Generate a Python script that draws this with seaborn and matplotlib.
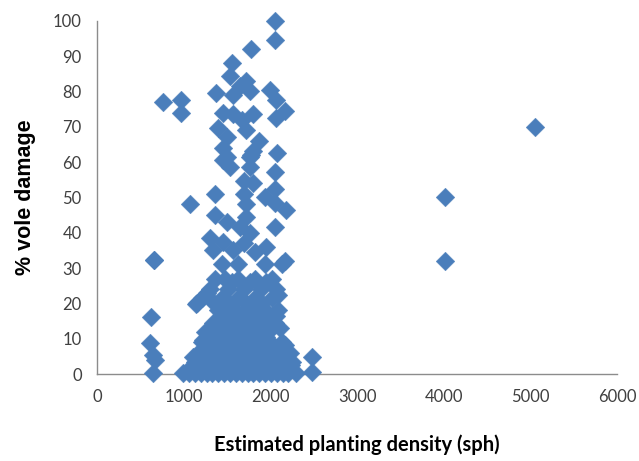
import matplotlib
matplotlib.use("Agg")
import matplotlib.pyplot as plt
import seaborn as sns
import pandas as pd

# density (sph) and vole damage (%)
density = [
    760, 970, 970, 1370, 1530, 1560, 1780, 2050, 2050, 1720,
    1650, 1570, 1760, 1990, 2060, 2170, 2060, 1450, 1570, 1800,
    1670, 1720, 1400, 1500, 1870, 1450, 1800, 2080, 1500, 1760,
    1450, 1530, 1780, 1760, 2050, 1690, 1800, 1360, 2050, 1690,
    1940, 2180, 2050, 1720, 1360, 1720, 2050, 1500, 1650, 1760,
    1300, 1450, 1690, 1950, 1570, 1820, 2170, 1340, 1070, 660,
    1440, 1630, 1940, 2130,
    1360, 1476, 1630, 1820, 2020, 1560, 1760, 1950,
    1303, 1510, 1700, 1890, 2060, 1265,
    1207, 1150, 1440, 1630, 1820, 2020, 2091,
    1350, 1520, 1720, 1900,
    1400, 1590, 1790, 1940, 2090,
    1460, 1660, 1870, 2060,
    1340, 1475, 1670, 1860, 2050, 1550, 1750, 1980, 2110,
    1400, 1600, 1800, 1990,
    1245, 1440, 1630, 1790, 1970, 1500, 1700, 1880,
    1290, 1560, 1760, 1950,
    1210, 1360, 1555, 1740, 1940, 2130, 1223, 2168,
    1290, 1470, 1650, 1850, 2040,
    1165, 1325, 1510, 1700, 1900, 2090, 2225, 1260, 1420, 1620, 1800, 2000, 2160,
    1210, 1380, 1560, 1760, 1960, 2150,
    1130, 1280, 1476, 1670, 1860, 2050, 2250, 1107,
    1150, 1310, 1520, 1710, 1900, 2100, 2240,
    1060, 1200, 1340, 1460, 1600, 1740, 1870, 2010, 2140,
    990, 1130, 1270, 1395, 1535, 1670, 1800, 1940, 2075, 2200,
    1060, 1200, 1330, 1460, 1600, 1740, 1870, 2010, 2140, 2290,
    657, 619, 611, 650, 669, 650, 1142,
    2476, 2476, 4020, 4020, 5050,
]
damage = [
    77, 77.5, 74, 79.5, 84.5, 88, 92, 100, 94.5, 83,
    81.5, 79, 80, 80.5, 77.5, 74.5, 72.5, 74, 73.5, 73.5,
    72, 69, 69.5, 67, 66, 64, 63, 62.5, 61.5, 61.5,
    60.5, 58.5, 62, 58.5, 57.3, 54.5, 54, 51, 52.5, 51,
    50, 46.5, 48.5, 48, 45, 44.5, 41.5, 43, 41.5, 40,
    38.5, 37.5, 37, 36, 35, 34.5, 32, 35, 48, 32.3,
    31, 31, 31, 31,
    27, 27, 27, 27, 27, 26, 26, 26,
    24, 24, 24, 24, 24, 23,
    21.4, 20, 21.5, 21.5, 21.5, 21.5, 22.4,
    20, 20, 20, 20,
    18, 18, 18, 18, 18,
    16.5, 16.5, 16.5, 16.5,
    14.5, 14.5, 14.5, 14.5, 14.5, 16, 16, 16, 13,
    13.5, 13.5, 13.5, 13.5,
    12, 12, 12, 12, 12, 11, 11, 11,
    10.5, 10.5, 10.5, 10.5,
    9, 9, 9, 9, 9, 9, 9.6, 8.2,
    8, 8, 8, 8, 8,
    6, 6, 6, 6, 6, 6, 6, 7, 7, 7, 7, 7, 7,
    5, 5, 5, 5, 5, 5,
    3.4, 3.4, 3.4, 3.4, 3.4, 3.4, 3.4, 4.8,
    2.5, 2.5, 2.5, 2.5, 2.5, 2.5, 2.5,
    1.5, 1.5, 1.5, 1.5, 1.5, 1.5, 1.5, 1.5, 1.5,
    0.3, 0.3, 0.3, 0.3, 0.3, 0.3, 0.3, 0.3, 0.3, 0.3,
    0.3, 0.3, 0.3, 0.3, 0.3, 0.3, 0.3, 0.3, 0.3, 0.3,
    32.3, 16.2, 8.7, 5.4, 4, 0.2, 19.7,
    4.8, 0.5, 50, 32, 70,
]

df = pd.DataFrame({"density": density, "damage": damage})

sns.set_style("white")
plt.rcParams["font.family"] = ["Lato", "DejaVu Sans"]

fig = plt.figure(figsize=(6.39, 4.61), dpi=100)
ax = fig.add_axes([0.152, 0.1887, 0.8135, 0.7663])

sns.scatterplot(data=df, x="density", y="damage", marker="D", s=90,
                color="#4A7EBB", edgecolor="#4A7EBB", linewidth=0.3,
                clip_on=False, zorder=5, ax=ax)

ax.set_xlim(0, 6000)
ax.set_ylim(0, 100)
ax.set_xticks(range(0, 6001, 1000))
ax.set_yticks(range(0, 101, 10))
for side in ["top", "right"]:
    ax.spines[side].set_visible(False)
for side in ["left", "bottom"]:
    ax.spines[side].set_color("#8C8C8C")
    ax.spines[side].set_linewidth(1)
ax.tick_params(axis="both", direction="out", length=5, width=1,
               color="#8C8C8C", labelsize=12, labelcolor="#404040", pad=6)

ax.set_xlabel("Estimated planting density (sph)", fontsize=14.5,
              fontweight="bold", color="#000000", labelpad=21)
ax.set_ylabel("% vole damage", fontsize=15.5, fontweight="bold",
              color="#000000", labelpad=12,
              family=["Liberation Sans", "DejaVu Sans"])

fig.savefig("out.png", dpi=100)
